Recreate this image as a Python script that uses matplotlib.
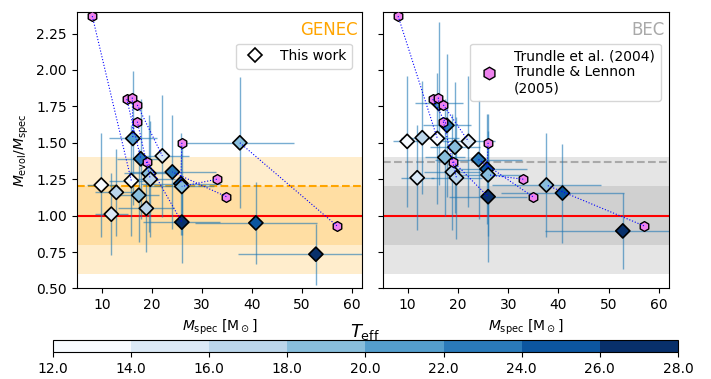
import numpy as np
import matplotlib
matplotlib.use('Agg')
import matplotlib.pyplot as plt
from matplotlib.colors import BoundaryNorm
from matplotlib.lines import Line2D
from matplotlib.cm import ScalarMappable

# spectroscopic masses of the sample and their errors
m_spec = [9.9, 12.9, 11.9, 15.9, 16.2, 17.4, 17.8, 18.9, 19.4, 19.7,
          22.1, 24.1, 25.8, 26.0, 26.0, 37.6, 40.8, 52.8]
m_spec_err = [2.8, 4.2, 3.3, 4.4, 4.8, 4.0, 4.8, 5.6, 5.0, 5.0,
              5.3, 8.7, 8.0, 6.5, 7.7, 10.9, 12.2, 15.5]
teff = [13, 17, 15, 13, 21, 19, 23, 17, 19, 17,
        15, 23, 25, 19, 27, 19, 25, 27]

# M_evol / M_spec for the two sets of tracks
ratio_genec = [1.21, 1.16, 1.01, 1.24, 1.53, 1.14, 1.39, 1.05, 1.29, 1.25,
               1.41, 1.30, 1.22, 1.20, 0.955, 1.50, 0.95, 0.735]
ratio_genec_err = [0.36, 0.30, 0.28, 0.38, 0.46, 0.32, 0.41, 0.30, 0.40, 0.40,
                   0.42, 0.39, 0.35, 0.33, 0.28, 0.45, 0.28, 0.21]
ratio_bec = [1.51, 1.535, 1.26, 1.53, 1.77, 1.40, 1.62, 1.30, 1.47, 1.26,
             1.51, 1.385, 1.32, 1.28, 1.13, 1.21, 1.155, 0.895]
ratio_bec_err = [0.45, 0.39, 0.36, 0.45, 0.56, 0.40, 0.49, 0.40, 0.45, 0.42,
                 0.45, 0.41, 0.38, 0.42, 0.45, 0.36, 0.34, 0.26]

# Trundle et al. (2004), Trundle & Lennon (2005)
trundle_m = [8.1, 15.0, 16.1, 17.1, 17.1, 19.1, 26.0, 33.0, 34.9, 57.0]
trundle_ratio = [2.37, 1.80, 1.81, 1.76, 1.645, 1.37, 1.50, 1.25, 1.13, 0.93]
trundle_match = [3, 6, 4, 10, 9, 14, 12, 13, 11, 15]

genec_mean = 1.2
bec_mean = 1.365

cmap = plt.get_cmap('Blues', 8)
norm = BoundaryNorm(np.arange(12, 29, 2), cmap.N)

fig = plt.figure(figsize=(7.11, 3.79), dpi=100)
ax1 = fig.add_axes([0.108, 0.239, 0.401, 0.730])
ax2 = fig.add_axes([0.538, 0.239, 0.403, 0.730], sharey=ax1)
cax = fig.add_axes([0.0745, 0.071, 0.879, 0.032])


def panel(ax, ratio, ratio_err, band_color, mean, mean_color):
    ax.axhspan(0.6, 1.4, color=band_color, alpha=0.2, lw=0, zorder=0)
    ax.axhspan(0.8, 1.2, color=band_color, alpha=0.2, lw=0, zorder=0)
    ax.axhline(1.0, color='red', lw=1.5, zorder=1)
    ax.axhline(mean, color=mean_color, ls='--', lw=1.5, zorder=1)
    ax.errorbar(m_spec, ratio, xerr=m_spec_err, yerr=ratio_err, fmt='none',
                ecolor='tab:blue', elinewidth=1, alpha=0.6, zorder=2)
    ax.scatter(m_spec, ratio, c=teff, cmap=cmap, norm=norm, marker='D', s=52,
               edgecolors='k', linewidths=1.2, zorder=3)
    ax.scatter(trundle_m, trundle_ratio, marker='h', s=50, color='violet',
               edgecolors='k', linewidths=1, zorder=4)
    for xt, yt, j in zip(trundle_m, trundle_ratio, trundle_match):
        ax.plot([xt, m_spec[j]], [yt, ratio[j]], ls=':', color='blue',
                lw=0.8, zorder=5)
    ax.set_xlim(5, 62)
    ax.set_ylim(0.5, 2.4)
    ax.set_xticks([10, 20, 30, 40, 50, 60])
    ax.set_yticks([0.5, 0.75, 1.0, 1.25, 1.5, 1.75, 2.0, 2.25])
    ax.set_xlabel(r'$M_{\rm spec}$ [M$_\odot$]')


panel(ax1, ratio_genec, ratio_genec_err, 'orange', genec_mean, 'orange')
panel(ax2, ratio_bec, ratio_bec_err, 'grey', bec_mean, 'darkgrey')

ax1.set_ylabel(r'$M_{\rm evol}/M_{\rm spec}$')
plt.setp(ax2.get_yticklabels(), visible=False)

ax1.text(0.985, 0.965, 'GENEC', transform=ax1.transAxes, ha='right', va='top',
         color='orange', fontsize=12)
ax2.text(0.985, 0.965, 'BEC', transform=ax2.transAxes, ha='right', va='top',
         color='darkgrey', fontsize=12)

h_this = Line2D([], [], ls='none', marker='D', ms=7, mfc='white', mec='k',
                mew=1.2)
ax1.legend([h_this], ['This work'], loc='upper right',
           bbox_to_anchor=(0.99, 0.91))
h_tr = Line2D([], [], ls='none', marker='h', ms=9, mfc='violet', mec='k',
              mew=1)
ax2.legend([h_tr], ['Trundle et al. (2004)\nTrundle & Lennon\n(2005)'],
           loc='upper right', bbox_to_anchor=(0.995, 0.91))

cb = fig.colorbar(ScalarMappable(norm=norm, cmap=cmap), cax=cax,
                  orientation='horizontal', ticks=np.arange(12, 29, 2),
                  format='%.1f')
cb.ax.xaxis.set_label_position('top')
cb.set_label(r'$T_{\rm eff}$', fontsize=13, labelpad=2)

fig.savefig('out.png', dpi=100)
